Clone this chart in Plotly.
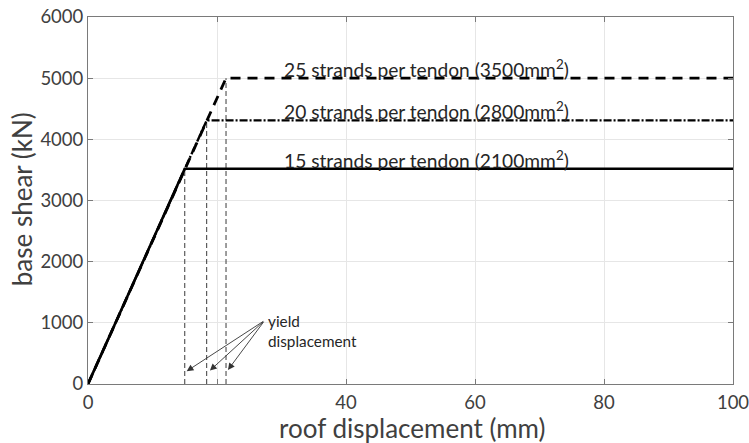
import plotly.graph_objects as go

# Bilinear base shear vs roof displacement curves for three tendon sizes
tendon_labels = [
    "15 strands per tendon (2100mm<sup>2</sup>)",
    "20 strands per tendon (2800mm<sup>2</sup>)",
    "25 strands per tendon (3500mm<sup>2</sup>)",
]
yield_disp = [15.0, 18.4, 21.4]          # mm
yield_shear = [3520, 4310, 5000]         # kN
max_disp = 100                           # mm
line_dash = ["solid", "8px,2px,2px,2px", "10px,7px"]
line_width = [2.6, 2.4, 2.8]

# arrow tail (label anchor) and arrow heads for the yield displacement callout
arrow_tail = (27.4, 1040)
arrow_head_y = [210, 220, 230]
arrow_head_dx = [0.3, 0.5, 0.3]

FONT = "Lato, 'Open Sans', sans-serif"
TEXT = "#262626"
TICK = "#404040"

fig = go.Figure()

# dashed guide lines down to the yield displacement
for xd, vy in zip(yield_disp, yield_shear):
    fig.add_trace(go.Scatter(
        x=[xd, xd], y=[0, vy], mode="lines",
        line=dict(color="#3a3a3a", width=1, dash="5px,3px"),
        hoverinfo="skip", showlegend=False))

# capacity curves, largest first so the solid curve sits on top
for i in reversed(range(3)):
    fig.add_trace(go.Scatter(
        x=[0, yield_disp[i], max_disp],
        y=[0, yield_shear[i], yield_shear[i]],
        mode="lines",
        line=dict(color="black", width=line_width[i], dash=line_dash[i]),
        name=tendon_labels[i], showlegend=False))

annotations = []
for lab, vy in zip(tendon_labels, yield_shear):
    annotations.append(dict(
        x=30.0, y=vy, xref="x", yref="y", text=lab, showarrow=False,
        xanchor="left", yanchor="bottom", yshift=-5,
        font=dict(family=FONT, size=19.2, color=TEXT)))

for xd, hy, dx in zip(yield_disp, arrow_head_y, arrow_head_dx):
    annotations.append(dict(
        x=xd + dx, y=hy, xref="x", yref="y",
        ax=arrow_tail[0], ay=arrow_tail[1], axref="x", ayref="y",
        text="", showarrow=True, arrowhead=2, arrowsize=1.5,
        arrowwidth=0.9, arrowcolor="#333333", standoff=0, startstandoff=0))

annotations.append(dict(
    x=27.6, y=1210, xref="x", yref="y", text="yield<br>displacement",
    showarrow=False, xanchor="left", yanchor="top", align="left",
    font=dict(family=FONT, size=15.3, color=TEXT)))

annotations.append(dict(
    x=0.502, y=-0.120, xref="paper", yref="paper",
    text="roof displacement (mm)", showarrow=False,
    xanchor="center", yanchor="middle",
    font=dict(family=FONT, size=26, color=TICK)))
annotations.append(dict(
    x=-0.102, y=0.504, xref="paper", yref="paper",
    text="base shear (kN)", showarrow=False, textangle=-90,
    xanchor="center", yanchor="middle",
    font=dict(family=FONT, size=26, color=TICK)))

axis_common = dict(
    showline=True, linecolor="#7a7a7a", linewidth=1, mirror="ticks",
    ticks="inside", ticklen=5, tickcolor="#7a7a7a",
    showgrid=True, gridcolor="#e6e6e6", gridwidth=1, zeroline=False,
    tickfont=dict(family=FONT, size=18.5, color=TICK),
    automargin=False, ticklabeloverflow="allow",
)

fig.update_layout(
    width=749, height=443,
    margin=dict(l=88, r=16, t=17, b=59),
    paper_bgcolor="white", plot_bgcolor="white",
    xaxis=dict(range=[0, 100], tickvals=[0, 20, 40, 60, 80, 100],
               ticktext=["0", "", "40", "60", "80", "100"],
               ticklabelstandoff=2, **axis_common),
    yaxis=dict(range=[0, 6000], tickvals=[0, 1000, 2000, 3000, 4000, 5000, 6000],
               **axis_common),
    annotations=annotations,
    showlegend=False,
)

fig.write_html("out.html")
